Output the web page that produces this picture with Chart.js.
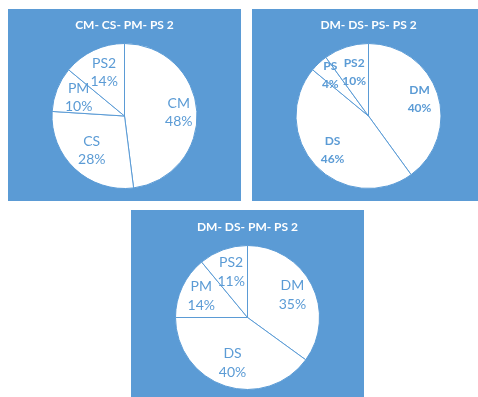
<!DOCTYPE html>
<html>
<head>
<meta charset="utf-8">
<script src="https://cdn.jsdelivr.net/npm/chart.js@4.4.1/dist/chart.umd.min.js"></script>
<style>
  html, body { margin: 0; padding: 0; background: #ffffff; }
  body { width: 478px; height: 397px; position: relative; overflow: hidden; }
  .panel { position: absolute; background: #5B9BD5; width: 233px; height: 192px; }
  .panel canvas { display: block; }
</style>
</head>
<body>
<div class="panel" style="left:8px; top:9px;"><canvas id="c1" width="233" height="192"></canvas></div>
<div class="panel" style="left:252px; top:9px;"><canvas id="c2" width="233" height="192"></canvas></div>
<div class="panel" style="left:131px; top:210px;"><canvas id="c3" width="233" height="192"></canvas></div>
<script>
// Chart titles
const titles = ['CM- CS- PM- PS 2', 'DM- DS- PS- PS 2', 'DM- DS- PM- PS 2'];

// Slice categories per chart
const labels1 = ['CM', 'CS', 'PM', 'PS2'];
const labels2 = ['DM', 'DS', 'PS', 'PS2'];
const labels3 = ['DM', 'DS', 'PM', 'PS2'];

// Shares in percent
const values1 = [48, 28, 10, 14];
const values2 = [40, 46, 4, 10];
const values3 = [35, 40, 14, 11];

const BLUE = '#5B9BD5';
const FONT = "Lato, 'Liberation Sans', sans-serif";

// Where each data label sits, as a fraction of the radius
const labelRadius = [
  [0.75, 0.66, 0.68, 0.66],
  [0.74, 0.68, 0.77, 0.64],
  [0.70, 0.67, 0.71, 0.67]
];
const labelFont = [
  { size: 14, weight: 'normal', gap: 18 },
  { size: 12, weight: 'bold', gap: 18 },
  { size: 14, weight: 'normal', gap: 19 }
];
const titleTop = [9.4, 9.4, 10.4];

// Draws "category / nn%" inside each slice
const sliceLabels = {
  id: 'sliceLabels',
  afterDatasetsDraw(chart, args, opts) {
    const ctx = chart.ctx;
    const meta = chart.getDatasetMeta(0);
    const data = chart.data.datasets[0].data;
    const total = data.reduce((a, b) => a + b, 0);
    ctx.save();
    ctx.fillStyle = BLUE;
    ctx.textAlign = 'center';
    ctx.textBaseline = 'middle';
    ctx.font = opts.weight + ' ' + opts.size + 'px ' + FONT;
    meta.data.forEach((arc, i) => {
      const p = arc.getProps(['x', 'y', 'startAngle', 'endAngle', 'outerRadius'], true);
      const mid = (p.startAngle + p.endAngle) / 2;
      const r = p.outerRadius * opts.radius[i];
      const x = p.x + Math.cos(mid) * r;
      const y = p.y + Math.sin(mid) * r;
      const pct = Math.round(data[i] / total * 100) + '%';
      ctx.fillText(chart.data.labels[i], x, y - opts.gap / 2);
      ctx.fillText(pct, x, y + opts.gap / 2);
    });
    ctx.restore();
  }
};

function makePie(id, idx, cats, vals) {
  new Chart(document.getElementById(id), {
    type: 'pie',
    data: {
      labels: cats,
      datasets: [{
        data: vals,
        backgroundColor: '#ffffff',
        borderColor: BLUE,
        borderWidth: 1
      }]
    },
    options: {
      responsive: false,
      animation: false,
      layout: { padding: { top: 0, bottom: 12, left: 0, right: 0 } },
      plugins: {
        legend: { display: false },
        tooltip: { enabled: false },
        title: {
          display: true,
          text: titles[idx],
          color: '#ffffff',
          font: { family: FONT, size: 12, weight: 'bold', lineHeight: 1.1 },
          padding: { top: titleTop[idx], bottom: 11.4 }
        },
        sliceLabels: {
          radius: labelRadius[idx],
          size: labelFont[idx].size,
          weight: labelFont[idx].weight,
          gap: labelFont[idx].gap
        }
      }
    },
    plugins: [sliceLabels]
  });
}

makePie('c1', 0, labels1, values1);
makePie('c2', 1, labels2, values2);
makePie('c3', 2, labels3, values3);
</script>
</body>
</html>
